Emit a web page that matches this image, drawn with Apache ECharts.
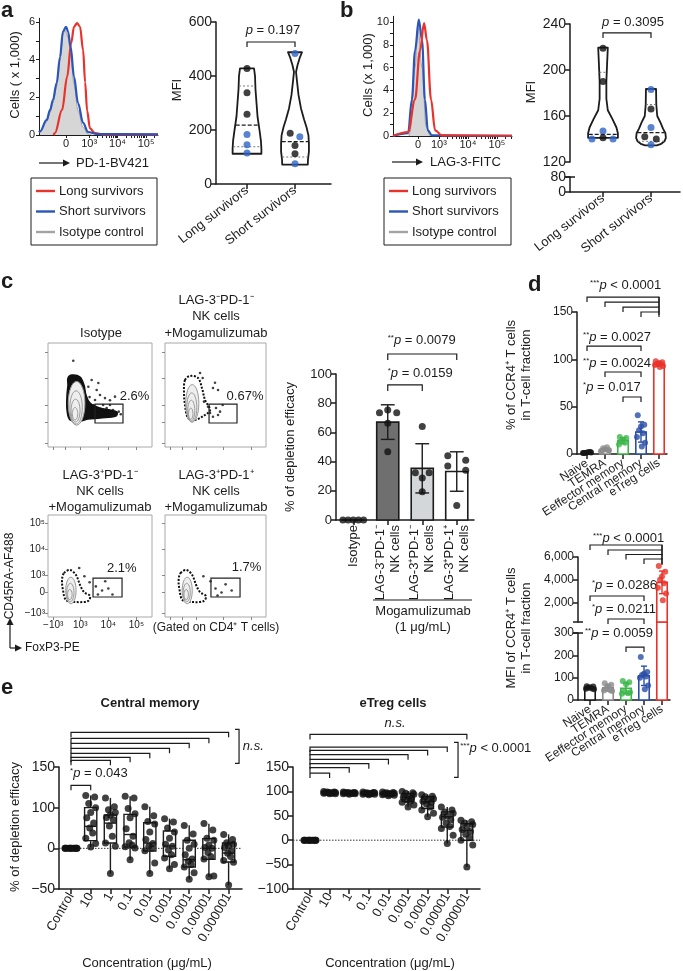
<!DOCTYPE html>
<html>
<head>
<meta charset="utf-8">
<script src="https://cdn.jsdelivr.net/npm/echarts@6.0.0/dist/echarts.min.js"></script>
<style>html,body{margin:0;padding:0;background:#fff;}#chart{width:683px;height:971px;}</style>
</head>
<body>
<div id="chart"></div>
<script>
const INK = '#1c1c1c';
const FONT = "'Liberation Sans', Arial, Helvetica, sans-serif";
const RED = '#e8322b', BLUE = '#2b55b8', ISO_LINE = '#a3a3a3', ISO_FILL = '#d6d6d6';

// ======================= DATA =======================
// (a) PD-1 histograms: x in biexponential display units (0 ~ 2.19, 10^3 = 3, 10^4 = 4, 10^5 = 5), y = cells (x 1,000)
const aHistTickPos = [2.19, 3, 4, 5];
const aHistTickLbl = ['0', '10³', '10⁴', '10⁵'];
const aHistLong  = [[1.75,0],[1.80,0.1],[2.05,1.33],[2.23,3.1],[2.37,4.9],[2.47,5.75],[2.58,5.95],[2.68,5.75],[2.79,4.5],[2.86,2.8],[2.93,1.3],[3.03,0.35],[3.21,0.1],[3.5,0.02],[5.42,0.02]];
const aHistShort = [[1.24,0.15],[1.28,0.2],[1.51,0.8],[1.63,1.33],[1.73,1.86],[1.86,2.76],[1.98,4.15],[2.08,5.5],[2.19,5.75],[2.26,5.5],[2.35,4.7],[2.47,3.1],[2.61,1.7],[2.79,0.64],[2.96,0.16],[3.28,0.05],[5.42,0.03]];
const aHistIso   = [[1.28,0.1],[1.51,0.7],[1.63,1.2],[1.73,1.7],[1.86,2.6],[1.98,4.0],[2.08,5.3],[2.15,5.6],[2.26,5.2],[2.35,4.3],[2.47,2.7],[2.61,1.3],[2.79,0.4],[2.96,0.05],[3.1,0]];
// (b) LAG-3 histograms
const bHistTickPos = [2.28, 3, 4, 5];
const bHistTickLbl = ['0', '10³', '10⁴', '10⁵'];
const bHistLong  = [[1.42,0.02],[1.94,0.35],[2.18,3.2],[2.35,7.5],[2.49,9.9],[2.59,8.4],[2.73,3.2],[2.87,0.5],[3.11,0.05],[5.52,0.02]];
const bHistShort = [[1.42,0.02],[1.94,0.25],[2.07,3.2],[2.18,7.5],[2.31,10.2],[2.42,8.4],[2.52,3.2],[2.62,0.5],[2.76,0.05],[5.52,0.02]];
const bHistIso   = [[1.97,0],[2.0,0.3],[2.18,6],[2.28,9.5],[2.42,6],[2.56,0.8],[2.69,0]];

// violins: shape = [MFI value, half width in category units]; quartile lines; points [x, MFI, colour group]
const survivorCats = ['Long survivors', 'Short survivors'];
const aLongShape  = [[428,.146],[400,.167],[350,.177],[300,.198],[250,.219],[200,.26],[160,.29],[130,.30],[112,.30]];
const aShortShape = [[488,.146],[470,.104],[440,.052],[415,.021],[380,.042],[330,.073],[280,.125],[240,.1875],[210,.24],[180,.28],[150,.29],[120,.29],[90,.27],[72,.267]];
const aLongQuart  = [[218,'median'],[138,'q'],[363,'q']];
const aShortQuart = [[157,'median'],[100,'q']];
const aPts = [[1,428,0],[1,338,0],[1,258,0],[1,183,1],[1,145,1],[1,115,1],[2,483,1],[1.9,188,0],[2.1,175,1],[2,143,0],[2,112,0],[2,75,1]];
const bLongShape  = [[219.4,.1],[205,.085],[190,.07],[175,.07],[165,.1],[157,.2],[150,.28],[145,.31],[141,.31]];
const bShortShape = [[183.5,.105],[170,.11],[160,.13],[154,.2],[149,.25],[145,.3],[141,.31],[138,.28],[135.5,.2],[134.5,.12]];
const bLongQuart  = [[144,'median'],[198,'q']];
const bShortQuart = [[145.5,'median'],[170,'q'],[138,'q']];
const bPts = [[1,219,0],[1,190,0],[1,147,1],[1,141,0],[0.77,140,1],[1.21,140,1],[2,183,1],[2,166,0],[2,150,1],[1.87,142,0],[2.11,140,0],[2,135,1]];

// (c) flow plots, display units 0-100 of each plot
const flowTickPosX = [5, 17, 31, 58, 85];
const flowTickPosY = [4, 24, 40.5, 66, 91.5];
const flowTickLbl  = ['−10³', '0', '10³', '10⁴', '10⁵'];
const isoCluster = [[19.2,66.3],[23.1,69.2],[30.8,67.3],[34.6,59.6],[36.5,50],[40.4,42.3],[50,37.5],[59.6,35.6],[66.3,33.7],[65.4,29.8],[50,27.9],[38.5,26.9],[30.8,25],[21.2,26],[18.3,35.6],[18.3,50],[19.2,59.6]];
const isoRings = [[27.5,42,8,21],[27,38,6,16],[26.5,35,4.3,11],[26,32,2.6,6]];
const isoDots = [[24.3,83],[46.8,54.8],[50,50],[54.8,47],[59.6,45],[64.4,48.4],[45.2,45.2],[53,40.4],[56.4,37.5],[62.5,35.6],[48.4,61.5],[42,64.4],[38.8,58],[59.6,40.4],[68,34],[70,31.5],[44,40],[40,48]];
const isoGate = [45.2, 23.1, 72.1, 41.3];
const isoPct = [69, 48.4, '2.6%'];
const nnCluster = [[19.8,64.4],[24.8,68.3],[32.7,66.3],[36.6,56.7],[39.6,45.2],[44.6,35.6],[39.6,30.8],[29.7,26],[22.8,27.9],[19.8,40.4],[18.8,52.9]];
const nnRings = [[27,42,6.5,18],[26.5,38,5,14],[26,35,3.5,10],[25.5,32,2.2,5.5]];
const nnDots = [[34.7,71.2],[37.3,66.3],[49.5,61.8],[47.5,56.7],[52.5,54.8],[50.5,37.5],[54.5,34],[57.1,40.4],[52.5,30.8],[47.5,29.1],[44.6,32.7],[42.6,38.7],[38.6,43.6]];
const nnGate = [43.6, 23.1, 71.3, 41.3];
const nnPct = [61, 48.4, '0.67%'];
const pnCluster = [[15.4,43.1],[21.2,46.1],[26.9,41.2],[30.8,31.4],[34.6,24.5],[40.4,20.6],[38.5,15.7],[26,14.7],[17.3,16.7],[14.4,26.5],[13.5,36.3]];
const pnRings = [[22,26,5,13],[21.5,24,3.5,9],[21,22,2.2,5]];
const pnDots = [[46,30],[52,26],[58,28],[40,34],[35,40],[62,22],[48,22],[30,48],[55,35]];
const pnGate = [43.3, 19.6, 71.2, 38.2];
const pnPct = [56.7, 48, '2.1%'];
const ppCluster = [[15.4,43.1],[21.2,46.1],[26.9,41.2],[30.8,31.4],[34.6,24.5],[40.4,20.6],[38.5,15.7],[26,14.7],[17.3,16.7],[14.4,26.5],[13.5,36.3]];
const ppRings = [[22,26,5,13],[21.5,24,3.5,9],[21,22,2.2,5]];
const ppDots = [[50,28],[56,24],[60,32],[45,35],[38,40],[66,26],[52,21]];
const ppGate = [45.5, 19.6, 74.3, 38.2];
const ppPct = [66, 49, '1.7%'];

// (c) depletion efficacy bars
const cCats = ['Isotype', 'LAG-3⁻PD-1⁻\nNK cells', 'LAG-3⁺PD-1⁻\nNK cells', 'LAG-3⁺PD-1⁺\nNK cells'];
const cVals = [[0,0,0,0,0],[73.5,75.3,73.5,66.2,46.8],[64,32.4,32.4,28.7,19.4],[44,37,41,34,10]];
const cJitter = [[-.3,-.15,0,.15,.3],[-.24,0,.26,0,0],[0,-.2,.2,0,0],[-.26,-.26,.26,.26,0]];
const cFill = ['#ffffff','#6f6f6f','#d4d7d9','#ffffff'];

// (d) CCR4 in T-cell fractions
const dCats = ['Naive', 'TEMRA', 'Eeffector memory', 'Central memory', 'eTreg cells'];
const dPct = [[1,2,1.5,1,2,1,1.5],[3,4,5,6,7,3,4],[18,17,15,13,12,10],[41,31,29,25,22,18,12,8],[98,97,96,95,95,94,93,92]];
const dMFI = [[62,60,57,55,52,50,48],[75,68,62,50,45,42,40],[85,80,70,40,30,28,35],[193,125,118,112,105,100,65,48],[5200,4700,4300,4000,3700,3300,2800,2200]];
const dColors = ['#151515','#8c8c8c','#3cb64b','#2a4fa6','#e8322b'];
const dJitter = [-.2,.2,0,-.12,.12,-.25,.25,0.05];

// (e) concentration series (box: min, q1, median, q3, max)
const eCats = ['Control','10','1','0.1','0.01','0.001','0.0001','0.00001','0.000001'];
const eCMBox = [[0,0,0,0,0],[3,19,54,100,115],[-31,13,62,82,112],[-14,3.3,34,83.6,114],[-31,-3.3,13,63,101],[-25,-9.8,5.7,42.6,73],[-38,-23,-14,19.7,56.6],[-35,-13.5,0,23.8,60.7],[-45.5,-16.8,-5.7,13.1,34.4]];
const eCMPts = [[0,0,0,0,0,0,0,0,0,0,0,0],[115,113,105,100,88,75,62,50,38,25,12,3],[112,101,95,88,82,76,70,55,30,13,5,-31],[114,112,98,85,75,48,30,14,8,4,1,-14],[101,80,66,60,40,22,12,5,0,-3,-18,-31],[73,65,50,40,25,10,5,-2,-8,-12,-20,-25],[56,35,20,10,0,-8,-13,-16,-20,-23,-30,-38],[61,45,25,20,8,2,0,-5,-10,-13,-34,-35],[34,22,14,10,6,2,-3,-6,-10,-15,-17,-45]];
const eTregBox = [[0,0,0,0,0],[95,96.5,97.5,98.5,100],[94,96,97,98,99],[93,95,96,97,99],[91,94,95,97,99],[68,79,88,96,101],[48,65,79,89,93],[-7,27,48,58,68],[-55,0,20,34,41]];
const eTregPts = [[0,0,0,0,0,0,0,0,0,0,0,0],[100,99,99,98,98,97,97,97,96,96,95,95],[99,98,98,97,97,97,96,96,96,95,95,94],[99,98,97,97,96,96,96,95,95,94,94,93],[99,98,97,96,96,95,95,94,94,93,92,91],[100,97,96,94,90,88,86,83,80,78,72,68],[93,90,89,85,82,80,78,74,68,62,55,48],[68,62,58,55,50,47,42,35,28,24,10,-7],[41,38,35,32,28,22,18,12,5,0,-10,-55]];
const eJitter = [-.25,.2,-.1,.25,0,-.2,.15,-.05,.1,-.25,.25,0];

// ======================= HELPERS =======================
const mean = a => a.reduce((s, v) => s + v, 0) / a.length;
const sd = a => { const m = mean(a); return Math.sqrt(a.reduce((s, v) => s + (v - m) * (v - m), 0) / (a.length - 1)); };
// piecewise display scale of the Central-memory y axis (compressed between 0 and 100)
const eT = v => v <= 0 ? v : (v <= 100 ? v / 2 : v - 50);

function merge(a, b) {
  const o = Object.assign({}, a);
  Object.keys(b).forEach(k => {
    const bv = b[k], av = a[k];
    if (bv && typeof bv === 'object' && !Array.isArray(bv) && av && typeof av === 'object' && !Array.isArray(av)) o[k] = merge(av, bv);
    else o[k] = bv;
  });
  return o;
}
function lab(pos, txt) { return v => { let bi = 0; pos.forEach((p, i) => { if (Math.abs(p - v) < Math.abs(pos[bi] - v)) bi = i; }); return txt[bi]; }; }
const seq = (a, b, s) => { const r = []; for (let v = a; v <= b + 1e-9; v += s) r.push(+v.toFixed(6)); return r; };
function axis(gi, min, max, o) {
  return merge({gridIndex: gi, type: 'value', min: min, max: max,
    axisLine: {show: true, onZero: false, lineStyle: {color: INK, width: 1.5}},
    axisTick: {show: true, length: 5, lineStyle: {color: INK, width: 1.5}},
    axisLabel: {show: true, color: INK, fontFamily: FONT, fontSize: 13, margin: 4, showMinLabel: true, showMaxLabel: true, hideOverlap: false},
    splitLine: {show: false}}, o || {});
}
function cs(gi, data, render, z) {
  return {type: 'custom', coordinateSystem: 'cartesian2d', xAxisIndex: gi, yAxisIndex: gi,
    data: data, renderItem: render, silent: true, animation: false, z: z || 3};
}
const RICH = {
  s: {fontSize: 8, fontFamily: FONT, fill: INK, verticalAlign: 'top'},
  i: {fontStyle: 'italic', fontSize: 13, fontFamily: FONT, fill: INK}
};
function halfAt(shape, v) {
  for (let i = 0; i < shape.length - 1; i++) {
    const a = shape[i], b = shape[i + 1];
    if (v <= a[0] && v >= b[0]) { const t = (a[0] - v) / (a[0] - b[0]); return a[1] + t * (b[1] - a[1]); }
  }
  return shape[shape.length - 1][1];
}
function violinSeries(gi, vs) {
  return cs(gi, vs.map(v => [v.x, v.shape[0][0]]), (p, api) => {
    const v = vs[p.dataIndex];
    const L = v.shape.map(s => api.coord([v.x - s[1], s[0]]));
    const R = v.shape.slice().reverse().map(s => api.coord([v.x + s[1], s[0]]));
    const kids = [{type: 'polygon', shape: {points: L.concat(R)}, style: {fill: 'rgba(0,0,0,0)', stroke: INK, lineWidth: 1.8, lineJoin: 'round'}}];
    v.lines.forEach(l => {
      const h = halfAt(v.shape, l[0]) * 0.96;
      const a = api.coord([v.x - h, l[0]]), b = api.coord([v.x + h, l[0]]);
      kids.push({type: 'line', shape: {x1: a[0], y1: a[1], x2: b[0], y2: b[1]},
        style: l[1] === 'median' ? {stroke: INK, lineWidth: 1.3, lineDash: [4, 2]} : {stroke: '#777', lineWidth: 1, lineDash: [2, 2]}});
    });
    return {type: 'group', children: kids};
  }, 2);
}
function bracketSeries(gi, list, leg) {
  return cs(gi, list.map(b => [b[0], b[2]]), (p, api) => {
    const b = list[p.dataIndex];
    const a = api.coord([b[0], b[2]]), c = api.coord([b[1], b[2]]);
    return {type: 'polyline', shape: {points: [[a[0], a[1] + leg], a, c, [c[0], c[1] + leg]]}, style: {stroke: INK, lineWidth: 1.2, fill: null}};
  });
}
function vlineSeries(gi, list, serif) { // [x, y1, y2]
  return cs(gi, list.map(b => [b[0], b[1]]), (p, api) => {
    const b = list[p.dataIndex];
    const a = api.coord([b[0], b[1]]), c = api.coord([b[0], b[2]]);
    const pts = serif ? [[a[0] - serif, a[1]], a, c, [c[0] - serif, c[1]]] : [a, c];
    return {type: 'polyline', shape: {points: pts}, style: {stroke: INK, lineWidth: 1.2, fill: null}};
  });
}
function textSeries(gi, list) { // [x, y, text, align]
  return cs(gi, list.map(t => [t[0], t[1]]), (p, api) => {
    const t = list[p.dataIndex], c = api.coord([t[0], t[1]]);
    return {type: 'text', x: c[0], y: c[1], style: {text: t[2], align: t[3] || 'center', verticalAlign: 'middle', fill: INK, fontSize: 13, fontFamily: FONT, rich: RICH}};
  }, 4);
}
// rotated category labels drawn under the axis (all of them, no automatic thinning)
function tickLabelSeries(gi, cats, base, deg, fs, margin) {
  return cs(gi, cats.map((c, i) => [i, base]), (p, api) => {
    const c = api.coord([p.dataIndex, base]);
    return {type: 'text', x: c[0], y: c[1] + margin, rotation: deg * Math.PI / 180,
      style: {text: cats[p.dataIndex], align: 'right', verticalAlign: 'middle', fill: INK, fontSize: fs, fontFamily: FONT}};
  }, 4);
}
function barSeries(gi, items, w, base, o) { // items [x, value, fill, stroke]
  o = o || {};
  return cs(gi, items.map(b => [b[0], b[1]]), (p, api) => {
    const b = items[p.dataIndex];
    const topV = o.top !== undefined ? Math.min(b[1], o.top) : b[1];
    const p1 = api.coord([b[0] - w / 2, topV]), p2 = api.coord([b[0] + w / 2, base]);
    let y1 = p1[1];
    if (o.top !== undefined && b[1] > o.top) y1 -= o.extend;
    return {type: 'rect', shape: {x: p1[0], y: y1, width: p2[0] - p1[0], height: p2[1] - y1}, style: {fill: b[2], stroke: b[3], lineWidth: o.lw || 1.6}};
  }, 2);
}
function errSeries(gi, items, cap) { // [x, mean, sd, colour]
  return cs(gi, items.map(b => [b[0], b[1]]), (p, api) => {
    const b = items[p.dataIndex];
    const t = api.coord([b[0], b[1] + b[2]]), m = api.coord([b[0], b[1] - b[2]]);
    const l = api.coord([b[0] - cap, b[1] + b[2]]), r = api.coord([b[0] + cap, b[1] + b[2]]);
    const l2 = api.coord([b[0] - cap, b[1] - b[2]]), r2 = api.coord([b[0] + cap, b[1] - b[2]]);
    const st = {stroke: b[3], lineWidth: 1.4};
    return {type: 'group', children: [
      {type: 'line', shape: {x1: t[0], y1: t[1], x2: m[0], y2: m[1]}, style: st},
      {type: 'line', shape: {x1: l[0], y1: l[1], x2: r[0], y2: r[1]}, style: st},
      {type: 'line', shape: {x1: l2[0], y1: l2[1], x2: r2[0], y2: r2[1]}, style: st}]};
  }, 5);
}
function boxSeries(gi, boxes, w, tf) { // [min, q1, med, q3, max] at x = index
  return cs(gi, boxes.map((b, i) => [i, tf(b[2])]), (p, api) => {
    const b = boxes[p.dataIndex].map(tf), x = p.dataIndex;
    const c = v => api.coord([x, v]);
    const a = api.coord([x - w / 2, b[3]]), d = api.coord([x + w / 2, b[1]]);
    const ml = api.coord([x - w / 2, b[2]]), mr = api.coord([x + w / 2, b[2]]);
    const st = {stroke: INK, lineWidth: 1.4};
    return {type: 'group', children: [
      {type: 'line', shape: {x1: c(b[0])[0], y1: c(b[0])[1], x2: c(b[1])[0], y2: c(b[1])[1]}, style: st},
      {type: 'line', shape: {x1: c(b[3])[0], y1: c(b[3])[1], x2: c(b[4])[0], y2: c(b[4])[1]}, style: st},
      {type: 'rect', shape: {x: a[0], y: a[1], width: d[0] - a[0], height: d[1] - a[1]}, style: {fill: '#fff', stroke: INK, lineWidth: 1.4}},
      {type: 'line', shape: {x1: ml[0], y1: ml[1], x2: mr[0], y2: mr[1]}, style: st}]};
  }, 2);
}
function zeroLine(gi) {
  return cs(gi, [[0, 0]], (p, api) => {
    const cy = api.coord([0, 0])[1], cx = p.coordSys;
    return {type: 'line', shape: {x1: cx.x, y1: cy, x2: cx.x + cx.width, y2: cy}, style: {stroke: '#333', lineWidth: 1, lineDash: [1.5, 1.5]}};
  }, 1);
}
function flowSeries(gi, cluster, rings, dots, gate, pct, dense) {
  const out = [];
  out.push(cs(gi, [[cluster[0][0], cluster[0][1]]], (p, api) => ({
    type: 'polygon', shape: {points: cluster.map(q => api.coord(q)), smooth: 0.35},
    style: dense ? {fill: '#111', stroke: '#111', lineWidth: 1.5} : {fill: '#fff', stroke: '#111', lineWidth: 2, lineDash: [2, 1.5]}}), 2));
  out.push(cs(gi, rings.map(r => [r[0], r[1]]), (p, api) => {
    const r = rings[p.dataIndex], c = api.coord([r[0], r[1]]), s = api.size([r[2], r[3]]);
    return {type: 'ellipse', shape: {cx: c[0], cy: c[1], rx: s[0], ry: s[1]}, style: {fill: p.dataIndex === 0 ? '#eeeeee' : 'rgba(0,0,0,0)', stroke: '#9a9a9a', lineWidth: 1}};
  }, 3));
  out.push({type: 'scatter', xAxisIndex: gi, yAxisIndex: gi, symbolSize: 2.6, itemStyle: {color: '#111'}, data: dots, silent: true, z: 3});
  out.push(cs(gi, [[gate[0], gate[1]]], (p, api) => {
    const a = api.coord([gate[0], gate[3]]), b = api.coord([gate[2], gate[1]]);
    return {type: 'rect', shape: {x: a[0], y: a[1], width: b[0] - a[0], height: b[1] - a[1]}, style: {fill: 'rgba(0,0,0,0)', stroke: '#222', lineWidth: 1.2}};
  }, 4));
  out.push(cs(gi, [[pct[0], pct[1]]], (p, api) => {
    const c = api.coord([pct[0], pct[1]]);
    return {type: 'text', x: c[0], y: c[1], style: {text: pct[2], align: 'left', verticalAlign: 'middle', fill: INK, fontSize: 13, fontFamily: FONT}};
  }, 4));
  return out;
}

// ======================= LAYOUT =======================
const G = [
  {left: 39, top: 18.3, width: 119, height: 116.7},   // 0 a hist
  {left: 216, top: 22, width: 115, height: 162},      // 1 a violin
  {left: 393, top: 16.3, width: 119, height: 119.7},  // 2 b hist
  {left: 570, top: 24, width: 110, height: 138},      // 3 b violin upper
  {left: 570, top: 177, width: 110, height: 15},      // 4 b violin lower
  {left: 48, top: 343, width: 104, height: 104},      // 5 flow isotype
  {left: 165, top: 343, width: 101, height: 104},     // 6
  {left: 48, top: 515, width: 104, height: 102},      // 7
  {left: 165, top: 515, width: 101, height: 102},     // 8
  {left: 336, top: 374, width: 138, height: 146},     // 9 c bars
  {left: 577, top: 312, width: 90, height: 142},      // 10 d top
  {left: 578, top: 557, width: 92, height: 65},       // 11 d bottom upper
  {left: 578, top: 633, width: 92, height: 67},       // 12 d bottom lower
  {left: 59, top: 767, width: 183, height: 122},      // 13 e left
  {left: 293, top: 767, width: 187, height: 122}      // 14 e right
];
const grids = G.map((g, i) => Object.assign({containLabel: false}, g, i >= 5 && i <= 8 ? {show: true, borderColor: '#a8a8a8', borderWidth: 1} : {}));

const decade = (lo, hi) => { const r = []; for (let d = 3; d <= 5; d++) for (let k = 1; k <= 9; k++) { const v = d + Math.log10(k); if (v >= lo && v <= hi) r.push(v); } return r; };
const histAxisX = (gi, min, max, pos, lbl) => axis(gi, min, max, {
  axisLine: {lineStyle: {width: 1}}, axisTick: {length: 3, lineStyle: {width: 1}, customValues: pos.concat(decade(3, max))},
  axisLabel: {fontSize: 11, margin: 3, customValues: pos, formatter: lab(pos, lbl)}});
const histAxisY = (gi, max, step) => axis(gi, 0, max, {
  axisLine: {lineStyle: {width: 1}}, axisTick: {length: 3, lineStyle: {width: 1}, customValues: seq(0, Math.floor(max), step / 2)},
  axisLabel: {fontSize: 11, margin: 4, customValues: seq(0, Math.floor(max), step), formatter: v => String(Math.round(v))}});
const catLabelAxis = (gi, min, max, cats, rot, fs) => axis(gi, min, max, {
  axisTick: {customValues: cats.map((c, i) => i + (gi <= 4 ? 1 : 0))},
  axisLabel: {customValues: cats.map((c, i) => i + (gi <= 4 ? 1 : 0)), formatter: lab(cats.map((c, i) => i + (gi <= 4 ? 1 : 0)), cats), rotate: rot, fontSize: fs || 13, margin: 5, lineHeight: 15}});
const catTickOnly = (gi, min, max, n) => axis(gi, min, max, {axisTick: {customValues: seq(0, n - 1, 1)}, axisLabel: {show: false}});
const flowX = gi => axis(gi, 0, 100, {axisLine: {show: false}, axisTick: {length: 3, lineStyle: {color: '#888', width: 1}, customValues: flowTickPosX},
  axisLabel: {show: gi === 7, fontSize: 10, margin: 3, customValues: flowTickPosX, formatter: lab(flowTickPosX, flowTickLbl)}});
const flowY = gi => axis(gi, 0, 100, {axisLine: {show: false}, axisTick: {length: 3, lineStyle: {color: '#888', width: 1}, customValues: flowTickPosY},
  axisLabel: {show: gi === 7, fontSize: 10, margin: 3, customValues: flowTickPosY, formatter: lab(flowTickPosY, flowTickLbl)}});
const minusFmt = v => String(v).replace('-', '−');
const commaFmt = v => v >= 1000 ? Math.floor(v / 1000) + ',' + String(v % 1000).padStart(3, '0') : String(v);

const xAxes = [
  histAxisX(0, 1.24, 5.42, aHistTickPos, aHistTickLbl),
  catLabelAxis(1, 0.354, 2.75, survivorCats, 38, 13),
  histAxisX(2, 1.42, 5.52, bHistTickPos, bHistTickLbl),
  axis(3, 0.3125, 2.604, {show: false}),
  catLabelAxis(4, 0.3125, 2.604, survivorCats, 38, 13),
  flowX(5), flowX(6), flowX(7), flowX(8),
  catLabelAxis(9, -0.5, 3.5, cCats, 90, 13),
  catTickOnly(10, -0.556, 4.444, dCats.length),
  axis(11, -0.667, 4.444, {show: false}),
  catTickOnly(12, -0.667, 4.444, dCats.length),
  catLabelAxis(13, -0.609, 8.68, eCats, 60, 13),
  catLabelAxis(14, -0.867, 8.67, eCats, 60, 13)
];
const yAxes = [
  histAxisY(0, 6.2, 2),
  axis(1, 0, 600, {interval: 200, axisLabel: {fontSize: 14}}),
  histAxisY(2, 10.5, 2),
  axis(3, 120, 240, {interval: 40, axisLabel: {fontSize: 14}}),
  axis(4, 0, 80, {interval: 80, axisLabel: {fontSize: 14}}),
  flowY(5), flowY(6), flowY(7), flowY(8),
  axis(9, 0, 100, {interval: 20}),
  axis(10, 0, 150, {interval: 50, axisLabel: {fontSize: 12}}),
  axis(11, 300, 6000, {axisTick: {customValues: [2000, 4000, 6000]}, axisLabel: {fontSize: 12, customValues: [2000, 4000, 6000], formatter: commaFmt}}),
  axis(12, 0, 300, {interval: 100, axisLabel: {fontSize: 12}}),
  axis(13, -50, 100, {axisTick: {customValues: [-50, 0, 50, 100]}, axisLabel: {fontSize: 14, customValues: [-50, 0, 50, 100], formatter: lab([-50, 0, 50, 100], ['−50', '0', '100', '150'])}}),
  axis(14, -100, 150, {interval: 50, axisLabel: {fontSize: 14, formatter: minusFmt}})
];

// ======================= SERIES =======================
const series = [];
const histLine = (gi, data, color, z) => ({type: 'line', xAxisIndex: gi, yAxisIndex: gi, data: data, showSymbol: false, smooth: 0.35, smoothMonotone: 'x', lineStyle: {color: color, width: 2.2}, z: z, silent: true});
const histIso = (gi, data) => ({type: 'line', xAxisIndex: gi, yAxisIndex: gi, data: data, showSymbol: false, smooth: 0.35, smoothMonotone: 'x', lineStyle: {color: ISO_LINE, width: 1}, areaStyle: {color: ISO_FILL, opacity: 1}, z: 1, silent: true});
series.push(histIso(0, aHistIso), histLine(0, aHistLong, RED, 2), histLine(0, aHistShort, BLUE, 3));
series.push(histIso(2, bHistIso), histLine(2, bHistShort, BLUE, 2), histLine(2, bHistLong, RED, 3));

// violins
series.push(violinSeries(1, [{x: 1, shape: aLongShape, lines: aLongQuart}, {x: 2, shape: aShortShape, lines: aShortQuart}]));
series.push(violinSeries(3, [{x: 1, shape: bLongShape, lines: bLongQuart}, {x: 2, shape: bShortShape, lines: bShortQuart}]));
const ptColor = g => g === 0 ? '#111' : '#2f63c6';
series.push({type: 'scatter', xAxisIndex: 1, yAxisIndex: 1, symbolSize: 7, z: 4, silent: true, data: aPts.map(p => ({value: [p[0], p[1]], itemStyle: {color: ptColor(p[2])}}))});
series.push({type: 'scatter', xAxisIndex: 3, yAxisIndex: 3, symbolSize: 7, z: 4, silent: true, data: bPts.map(p => ({value: [p[0], p[1]], itemStyle: {color: ptColor(p[2])}}))});
series.push(bracketSeries(1, [[1, 2, 526]], 5), textSeries(1, [[1.54, 570, '{i|p} = 0.197']]));
series.push(bracketSeries(3, [[1, 2, 232.2]], 5), textSeries(3, [[1.625, 241, '{i|p} = 0.3095']]));

// flow plots
series.push(...flowSeries(5, isoCluster, isoRings, isoDots, isoGate, isoPct, true));
series.push(...flowSeries(6, nnCluster, nnRings, nnDots, nnGate, nnPct, false));
series.push(...flowSeries(7, pnCluster, pnRings, pnDots, pnGate, pnPct, false));
series.push(...flowSeries(8, ppCluster, ppRings, ppDots, ppGate, ppPct, false));

// c bars
series.push(barSeries(9, cVals.map((v, i) => [i, mean(v), cFill[i], INK]), 0.64, 0));
series.push(errSeries(9, cVals.map((v, i) => [i, mean(v), sd(v), INK]).filter(e => e[2] > 0), 0.2));
series.push({type: 'scatter', xAxisIndex: 9, yAxisIndex: 9, symbolSize: 7, z: 6, silent: true, itemStyle: {color: '#111'},
  data: cVals.flatMap((v, i) => v.map((y, k) => [i + cJitter[i][k], y]))});
series.push(bracketSeries(9, [[1, 3, 113.7], [1, 2, 92.5]], 6));
series.push(textSeries(9, [[1, 123.3, '{s|**}{i|p} = 0.0079', 'left'], [1, 100.7, '{s|*}{i|p} = 0.0159', 'left']]));

// d top (% of CCR4+)
series.push(barSeries(10, dPct.map((v, i) => [i, mean(v), '#fff', dColors[i]]), 0.58, 0, {lw: 1.6}));
series.push(errSeries(10, dPct.map((v, i) => [i, mean(v), sd(v), dColors[i]]), 0.17));
series.push({type: 'scatter', xAxisIndex: 10, yAxisIndex: 10, symbolSize: 6, z: 6, silent: true,
  data: dPct.flatMap((v, i) => v.map((y, k) => ({value: [i + dJitter[k % dJitter.length] * 0.9, y], itemStyle: {color: dColors[i]}})))});
series.push(bracketSeries(10, [[0, 4, 165.8], [1, 4, 160.5], [2, 4, 155.2], [3, 4, 150], [0, 3, 114], [1, 3, 86.6], [2, 3, 60.2]], 5));
series.push(vlineSeries(10, [[4, 165.8, 146.8]]));
series.push(textSeries(10, [[0.17, 178.5, '{s|***}{i|p} < 0.0001', 'left'], [-0.22, 123.5, '{s|**}{i|p} = 0.0027', 'left'], [-0.22, 96, '{s|**}{i|p} = 0.0024', 'left'], [-0.22, 70, '{s|*}{i|p} = 0.017', 'left']]));
series.push(tickLabelSeries(10, dCats, 0, 33, 12, 8));

// d bottom (MFI), broken axis
const dLowIdx = [0, 1, 2, 3];
series.push(barSeries(12, dMFI.map((v, i) => [i, mean(v), '#fff', dColors[i]]), 0.58, 0, {lw: 1.6, top: 300, extend: 11}));
series.push(barSeries(11, [[4, mean(dMFI[4]), '#fff', dColors[4]]], 0.58, 300, {lw: 1.6}));
series.push(errSeries(12, dLowIdx.map(i => [i, mean(dMFI[i]), sd(dMFI[i]), dColors[i]]), 0.17));
series.push(errSeries(11, [[4, mean(dMFI[4]), sd(dMFI[4]), dColors[4]]], 0.17));
series.push({type: 'scatter', xAxisIndex: 12, yAxisIndex: 12, symbolSize: 6, z: 6, silent: true,
  data: dLowIdx.flatMap(i => dMFI[i].map((y, k) => ({value: [i + dJitter[k % dJitter.length] * 0.9, y], itemStyle: {color: dColors[i]}})))});
series.push({type: 'scatter', xAxisIndex: 11, yAxisIndex: 11, symbolSize: 6, z: 6, silent: true,
  data: dMFI[4].map((y, k) => ({value: [4 + dJitter[k % dJitter.length] * 0.9, y], itemStyle: {color: dColors[4]}}))});
series.push(bracketSeries(11, [[0, 4, 7053], [1, 4, 6614], [2, 4, 6220], [3, 4, 5825], [0, 3, 2580], [1, 3, 563]], 5));
series.push(vlineSeries(11, [[4, 7053, 5300]]));
series.push(textSeries(11, [[0.17, 7667, '{s|***}{i|p} < 0.0001', 'left'], [0.11, 3545, '{s|*}{i|p} = 0.0286', 'left'], [0.11, 1440, '{s|*}{i|p} = 0.0211', 'left']]));
series.push(bracketSeries(12, [[2, 3, 237]], 5));
series.push(textSeries(12, [[-0.28, 300, '{s|**}{i|p} = 0.0059', 'left']]));
series.push(tickLabelSeries(12, dCats, 0, 33, 12, 8));

// e boxes
series.push(zeroLine(13), zeroLine(14));
series.push(boxSeries(13, eCMBox, 0.62, eT), boxSeries(14, eTregBox, 0.6, v => v));
series.push({type: 'scatter', xAxisIndex: 13, yAxisIndex: 13, symbolSize: 7, z: 6, silent: true, itemStyle: {color: '#111'},
  data: eCMPts.flatMap((v, i) => v.map((y, k) => [i + eJitter[k] * (i === 0 ? 1.2 : 1), eT(y)]))});
series.push({type: 'scatter', xAxisIndex: 14, yAxisIndex: 14, symbolSize: 7, z: 6, silent: true, itemStyle: {color: '#111'},
  data: eTregPts.flatMap((v, i) => v.map((y, k) => [i + eJitter[k] * 1.2, y]))});
series.push(bracketSeries(13, [[0, 8, 142.6], [0, 7, 135.3], [0, 6, 129.1], [0, 5, 123.0], [0, 4, 116.8], [0, 3, 111.9], [0, 2, 108.2], [0, 1, 77.5]], 5));
series.push(vlineSeries(13, [[8.53, 146.3, 104.5]], 4));
series.push(textSeries(13, [[8.72, 125.4, '{i|n.s.}', 'left'], [-0.05, 92.2, '{s|*}{i|p} = 0.043', 'left']]));
series.push(bracketSeries(14, [[0, 8, 216.8], [0, 7, 190.8], [0, 6, 184], [0, 5, 175.3], [0, 4, 165.6], [0, 3, 156.9], [0, 2, 148.7], [0, 1, 137.6]], 5));
series.push(vlineSeries(14, [[7.55, 200.4, 128.8]], 4));
series.push(textSeries(14, [[4.34, 239.3, '{i|n.s.}', 'center'], [7.66, 188.1, '{s|***}{i|p} < 0.0001', 'left']]));

// ======================= GRAPHIC (titles, legends) =======================
function gt(x, y, text, o) {
  o = o || {};
  const font = (o.italic ? 'italic ' : '') + (o.weight || 'normal') + ' ' + (o.size || 13) + 'px ' + FONT;
  return {type: 'text', x: x, y: y, rotation: o.rot || 0, silent: true, z: 10,
    style: {text: text, fill: INK, font: font, align: o.align || 'center', verticalAlign: o.va || 'middle'}};
}
function gl(x1, y1, x2, y2, color, w) { return {type: 'line', silent: true, z: 10, shape: {x1, y1, x2, y2}, style: {stroke: color || INK, lineWidth: w || 1}}; }
function arrow(x1, y1, x2, y2) {
  const ang = Math.atan2(y2 - y1, x2 - x1), L = 7, W = 3.5;
  const bx = x2 - L * Math.cos(ang), by = y2 - L * Math.sin(ang);
  return [gl(x1, y1, bx, by, INK, 1.2),
    {type: 'polygon', silent: true, z: 10, shape: {points: [[x2, y2], [bx - W * Math.sin(ang), by + W * Math.cos(ang)], [bx + W * Math.sin(ang), by - W * Math.cos(ang)]]}, style: {fill: INK}}];
}
function legendBox(x, y, w, h) {
  const items = [['Long survivors', RED], ['Short survivors', BLUE], ['Isotype control', ISO_LINE]];
  const out = [{type: 'rect', silent: true, z: 10, shape: {x: x, y: y, width: w, height: h}, style: {fill: '#fff', stroke: INK, lineWidth: 1}}];
  items.forEach((it, i) => {
    const yy = y + 13 + i * 20.5;
    out.push(gl(x + 5, yy, x + 24, yy, it[1], 2.4));
    out.push(gt(x + 28, yy, it[0], {align: 'left'}));
  });
  return out;
}
const R90 = Math.PI / 2;
const graphic = [].concat(
  [gt(1, 11, 'a', {size: 22, weight: 'bold', align: 'left'}), gt(340, 11, 'b', {size: 22, weight: 'bold', align: 'left'}),
   gt(1, 282, 'c', {size: 22, weight: 'bold', align: 'left'}), gt(528, 285, 'd', {size: 22, weight: 'bold', align: 'left'}),
   gt(1, 688, 'e', {size: 22, weight: 'bold', align: 'left'})],
  [gt(15, 75, 'Cells ( x 1,000)', {rot: R90}), gt(368, 75, 'Cells (x 1,000)', {rot: R90})],
  arrow(39, 163, 70, 163), [gt(76, 163, 'PD-1-BV421', {align: 'left'})],
  arrow(392, 162, 423, 162), [gt(430, 162, 'LAG-3-FITC', {align: 'left'})],
  [gt(177, 90, 'MFI', {rot: R90}), gt(531, 92, 'MFI', {rot: R90})],
  legendBox(31, 178, 126, 67), legendBox(384, 178, 127, 67),
  [gt(101, 333, 'Isotype'), gt(216, 300, 'LAG-3⁻PD-1⁻'), gt(216, 316, 'NK cells'), gt(216, 333, '+Mogamulizumab'),
   gt(100, 475, 'LAG-3⁺PD-1⁻'), gt(100, 491, 'NK cells'), gt(100, 507, '+Mogamulizumab'),
   gt(216, 475, 'LAG-3⁺PD-1⁺'), gt(216, 491, 'NK cells'), gt(216, 507, '+Mogamulizumab'),
   gt(10, 576, 'CD45RA-AF488', {rot: R90, size: 12}), gt(25, 648, 'FoxP3-PE', {align: 'left', size: 12}),
   gt(216, 628, '(Gated on CD4⁺ T cells)', {size: 12})],
  arrow(10, 648, 10, 618), arrow(10, 648, 22, 648),
  [gt(290, 447, '% of depletion efficacy', {rot: R90}),
   gl(373, 600, 472, 600, INK, 1.2), gt(423, 611, 'Mogamulizumab'), gt(423, 627, '(1 μg/mL)')],
  [gt(511, 375, '% of CCR4⁺ T cells', {rot: R90}), gt(526, 375, 'in T-cell fraction', {rot: R90}),
   gt(511, 628, 'MFI of CCR4⁺ T cells', {rot: R90}), gt(526, 628, 'in T-cell fraction', {rot: R90})],
  [gl(G[11].left - 5, G[11].top + G[11].height, G[11].left + 5, G[11].top + G[11].height, INK, 1.5),
   gl(G[12].left - 5, G[12].top, G[12].left + 5, G[12].top, INK, 1.5),
   gl(G[4].left - 5, G[4].top, G[4].left + 5, G[4].top, INK, 1.5)],
  [gt(150, 703, 'Central memory', {weight: 'bold'}), gt(393, 703, 'eTreg cells', {weight: 'bold'}),
   gt(147, 963, 'Concentration (μg/mL)'), gt(390, 963, 'Concentration (μg/mL)'),
   gt(15, 827, '% of depletion efficacy', {rot: R90})]
);

const chart = echarts.init(document.getElementById('chart'), null, {renderer: 'canvas', width: 683, height: 971});
chart.setOption({
  animation: false,
  backgroundColor: '#fff',
  textStyle: {fontFamily: FONT},
  grid: grids,
  xAxis: xAxes,
  yAxis: yAxes,
  series: series,
  graphic: graphic
});
</script>
</body>
</html>
